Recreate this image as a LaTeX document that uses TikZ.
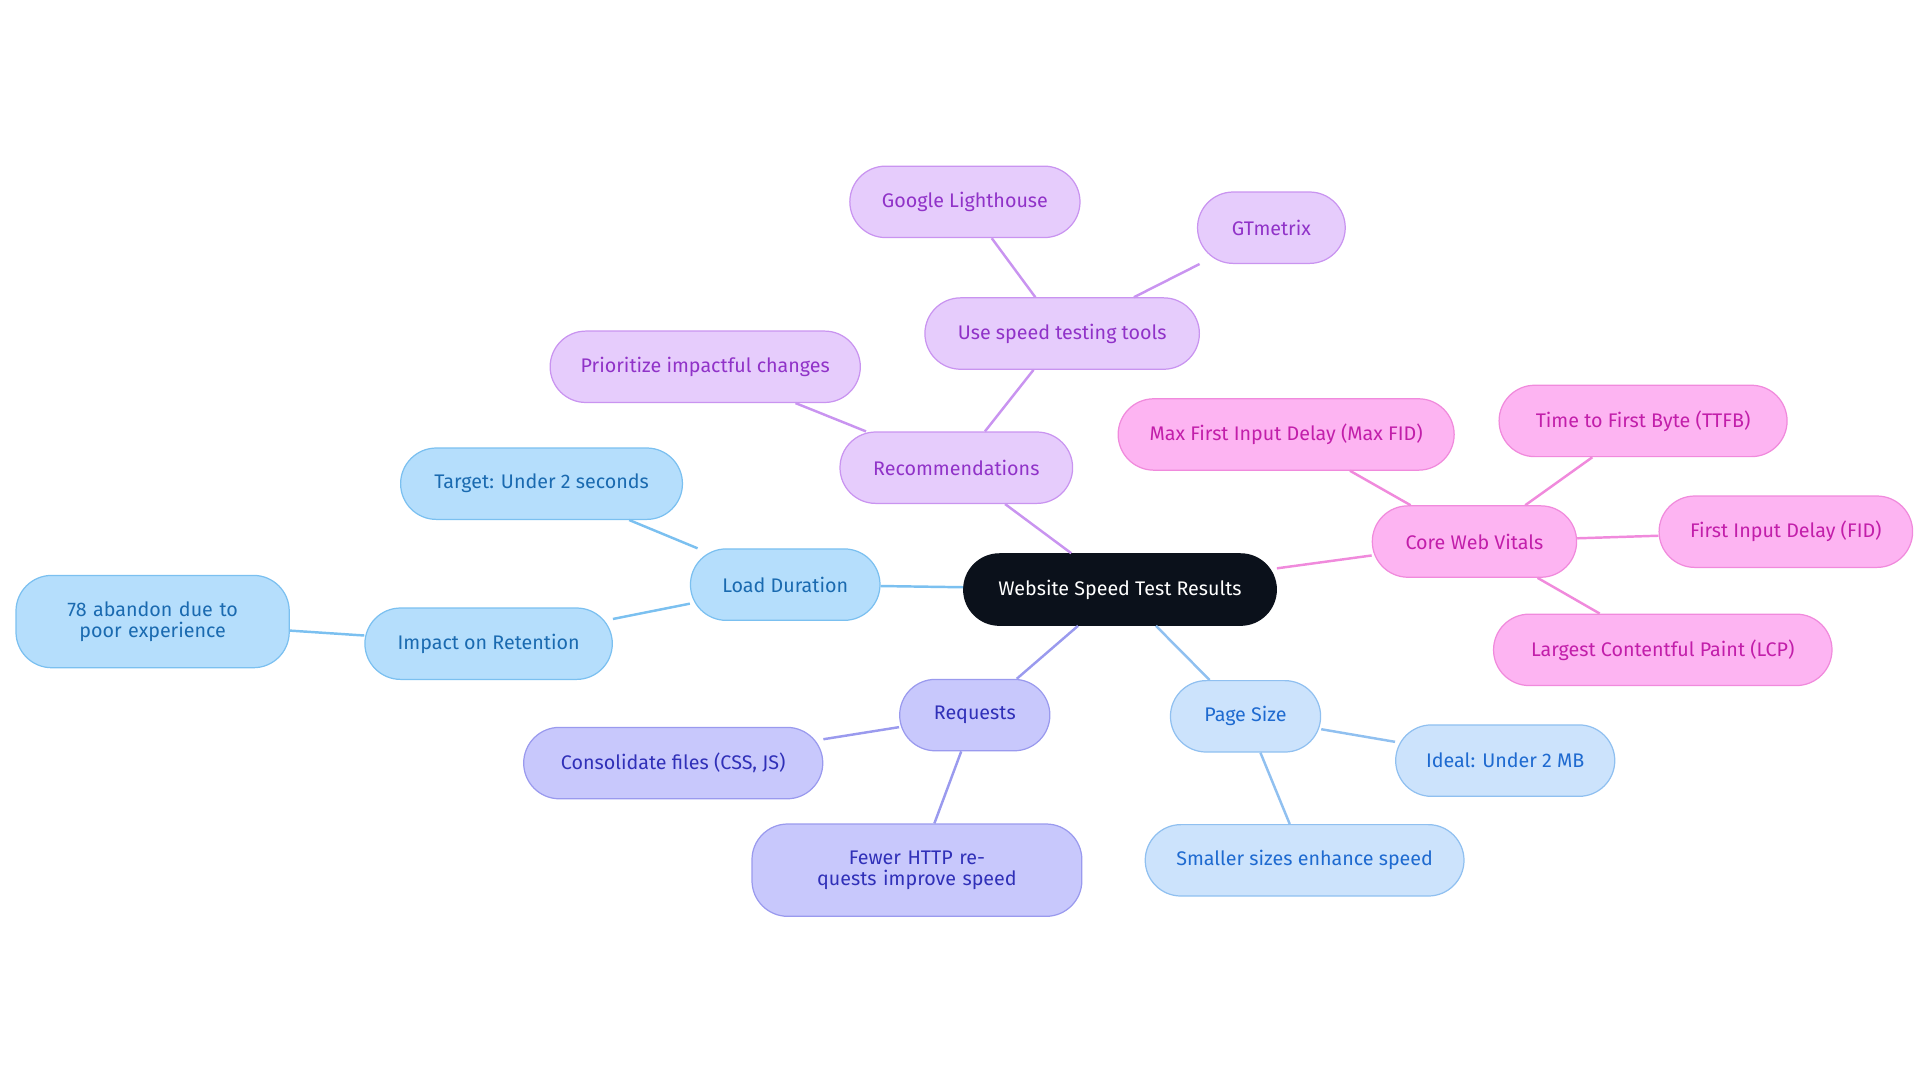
\documentclass[tikz,border=0pt]{standalone}
\usepackage{fontspec}
\setmainfont{Fira Sans}
\definecolor{rootfill}{HTML}{0B111B}
\definecolor{bluefill}{HTML}{B5DEFC}\definecolor{bluedraw}{HTML}{7BC0F0}\definecolor{bluetext}{HTML}{1A6AB0}
\definecolor{purpfill}{HTML}{E6CCFC}\definecolor{purpdraw}{HTML}{C994F0}\definecolor{purptext}{HTML}{9032C8}
\definecolor{pinkfill}{HTML}{FDB4F2}\definecolor{pinkdraw}{HTML}{F08ADC}\definecolor{pinktext}{HTML}{C21EAA}
\definecolor{indfill}{HTML}{C8C8FC}\definecolor{inddraw}{HTML}{9A9AEE}\definecolor{indtext}{HTML}{3030B8}
\definecolor{skyfill}{HTML}{CCE3FC}\definecolor{skydraw}{HTML}{90C0F0}\definecolor{skytext}{HTML}{1E6AD0}
\tikzset{
  box/.style={rounded corners=14.5pt, minimum height=29pt, inner sep=2pt, align=center,
    font=\fontsize{8}{8.5}\selectfont, line width=0.5pt},
  rootbox/.style={box, fill=rootfill, draw=rootfill, text=white},
  bluebox/.style={box, fill=bluefill, draw=bluedraw, text=bluetext},
  purpbox/.style={box, fill=purpfill, draw=purpdraw, text=purptext},
  pinkbox/.style={box, fill=pinkfill, draw=pinkdraw, text=pinktext},
  indbox/.style={box, fill=indfill, draw=inddraw, text=indtext},
  skybox/.style={box, fill=skyfill, draw=skydraw, text=skytext},
  w/.style={minimum width=#1*0.5pt},
  link/.style={line width=1pt}
}
\begin{document}
\begin{tikzpicture}[x=0.5pt,y=-0.5pt]
  \useasboundingbox (0,0) rectangle (1560,880);
  % branches drawn first, boxes on top
  \begin{scope}[on background layer/.style={}]
  \end{scope}
  % root
  \node[rootbox,w=254] (root) at (910,479) {Website Speed Test Results};
  % load duration
  \node[bluebox,w=154] (load) at (638,475) {Load Duration};
  \node[bluebox,w=229] (target) at (440,393) {Target: Under 2 seconds};
  \node[bluebox,w=201] (impact) at (397,523) {Impact on Retention};
  \node[bluebox,w=222,minimum height=37.5pt,text width=95pt] (abandon) at (124,505) {78 abandon due to poor experience};
  % recommendations
  \node[purpbox,w=189] (recs) at (777,380) {Recommendations};
  \node[purpbox,w=252] (prior) at (573,298) {Prioritize impactful changes};
  \node[purpbox,w=223] (tools) at (863,271) {Use speed testing tools};
  \node[purpbox,w=187] (lighthouse) at (784,164) {Google Lighthouse};
  \node[purpbox,w=120] (gtm) at (1033,185) {GTmetrix};
  % core web vitals
  \node[pinkbox,w=166] (cwv) at (1198,440) {Core Web Vitals};
  \node[pinkbox,w=273] (maxfid) at (1045,353) {Max First Input Delay (Max FID)};
  \node[pinkbox,w=234] (ttfb) at (1335,342) {Time to First Byte (TTFB)};
  \node[pinkbox,w=206] (fid) at (1451,432) {First Input Delay (FID)};
  \node[pinkbox,w=275] (lcp) at (1351,528) {Largest Contentful Paint (LCP)};
  % requests
  \node[indbox,w=122] (req) at (792,581) {Requests};
  \node[indbox,w=243] (consol) at (547,620) {Consolidate files (CSS, JS)};
  \node[indbox,w=268,minimum height=37.5pt,text width=120pt] (fewer) at (745,707) {Fewer HTTP requests improve speed};
  % page size
  \node[skybox,w=122] (page) at (1012,582) {Page Size};
  \node[skybox,w=178] (ideal) at (1223,618) {Ideal: Under 2 MB};
  \node[skybox,w=259] (smaller) at (1060,699) {Smaller sizes enhance speed};
  % connectors
  \begin{scope}[on behind/.style={}]
  \end{scope}
  \draw[link,bluedraw] (root) -- (load) (load) -- (target) (load) -- (impact) (impact) -- (abandon);
  \draw[link,purpdraw] (root) -- (recs) (recs) -- (prior) (recs) -- (tools) (tools) -- (lighthouse) (tools) -- (gtm);
  \draw[link,pinkdraw] (root) -- (cwv) (cwv) -- (maxfid) (cwv) -- (ttfb) (cwv) -- (fid) (cwv) -- (lcp);
  \draw[link,inddraw] (root) -- (req) (req) -- (consol) (req) -- (fewer);
  \draw[link,skydraw] (root) -- (page) (page) -- (ideal) (page) -- (smaller);
\end{tikzpicture}
\end{document}
